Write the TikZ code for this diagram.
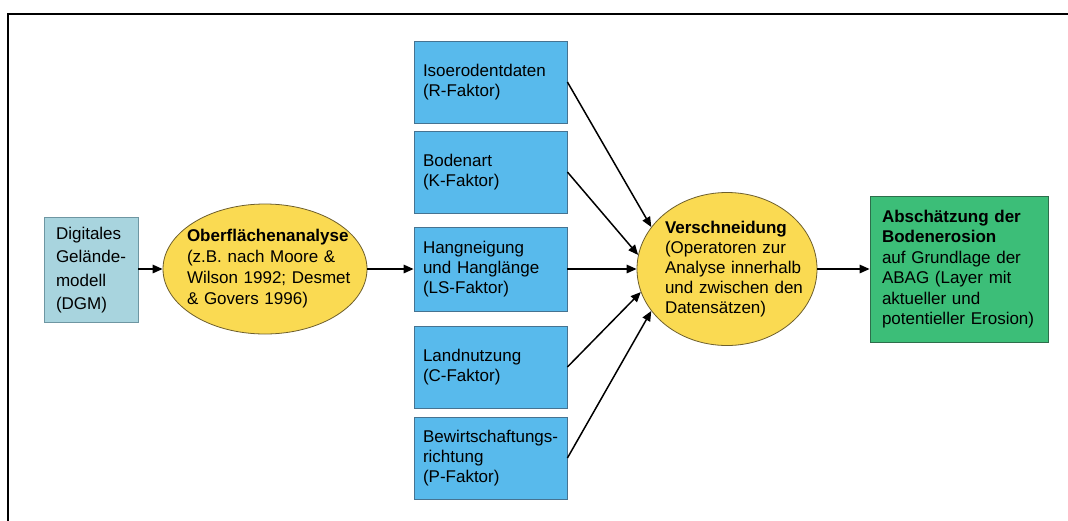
\documentclass[tikz,border=0pt]{standalone}
\usepackage{fontspec}
\setmainfont{Liberation Sans}
\usetikzlibrary{shapes.geometric,arrows.meta}
\definecolor{dgmfill}{RGB}{168,212,222}
\definecolor{dgmdraw}{RGB}{110,150,162}
\definecolor{facfill}{RGB}{88,186,236}
\definecolor{facdraw}{RGB}{70,115,145}
\definecolor{ellfill}{RGB}{250,218,82}
\definecolor{elldraw}{RGB}{110,95,45}
\definecolor{resfill}{RGB}{60,190,120}
\definecolor{resdraw}{RGB}{45,110,75}
\begin{document}
\begin{tikzpicture}[x=1pt,y=-1pt,
  base/.style={draw, line width=0.8pt, align=left, inner ysep=0pt, text=black,
    font=\fontsize{17}{20}\selectfont,
    execute at begin node={\hyphenpenalty=10000\exhyphenpenalty=10000}},
  dgmbox/.style={base, rectangle, fill=dgmfill, draw=dgmdraw, minimum width=94pt,
    minimum height=105pt, inner xsep=12pt, text width=70pt,
    font=\fontsize{17}{23.3}\selectfont},
  facbox/.style={base, rectangle, fill=facfill, draw=facdraw, minimum width=153pt,
    minimum height=82pt, inner xsep=9pt, text width=135pt},
  ellnode/.style={base, ellipse, fill=ellfill, draw=elldraw, inner xsep=-20pt},
  resbox/.style={base, rectangle, fill=resfill, draw=resdraw, minimum width=178pt,
    minimum height=146pt, inner xsep=12pt, text width=154pt,
    font=\fontsize{17}{20.4}\selectfont},
  arr/.style={draw=black, line width=1.5pt, -{Triangle[length=10pt,width=8.5pt]}}]
\useasboundingbox (0,0) rectangle (1068,520);
\fill[white] (0,0) rectangle (1068,520);
\draw[line width=2pt, line join=miter] (8,521) -- (8,14) -- (1069,14);

\node[dgmbox] (dgm) at (91,270) {Digitales\\Gelände-\\modell\\(DGM)};
\node[ellnode, minimum width=204pt, minimum height=130pt, text width=156pt,
  font=\fontsize{17}{21}\selectfont]
  (ana) at (265,269) {\mbox{\textbf{Oberflächenanalyse}}\\\mbox{(z.B. nach Moore \&}\\\mbox{Wilson 1992; Desmet}\\\mbox{\& Govers 1996)}};

\node[facbox] (iso)  at (490.5,82)  {Isoerodentdaten\\(R-Faktor)};
\node[facbox] (bod)  at (490.5,172) {Bodenart\\(K-Faktor)};
\node[facbox, minimum height=84pt] (hang) at (490.5,269) {Hangneigung\\und Hanglänge\\(LS-Faktor)};
\node[facbox] (land) at (490.5,367) {Landnutzung\\(C-Faktor)};
\node[facbox] (bew)  at (490.5,458) {Bewirtschaftungs-\\richtung\\(P-Faktor)};

\node[ellnode, minimum width=180pt, minimum height=153pt, text width=124pt]
  (ver) at (727,269) {\mbox{\textbf{Verschneidung}}\\\mbox{(Operatoren zur}\\\mbox{Analyse innerhalb}\\\mbox{und zwischen den}\\\mbox{Datensätzen)}};

\node[resbox] (res) at (959,269) {\mbox{\textbf{Abschätzung der}}\\\mbox{\textbf{Bodenerosion}}\\\mbox{auf Grundlage der}\\\mbox{ABAG (Layer mit}\\\mbox{aktueller und}\\\mbox{potentieller Erosion)}};

\draw[arr] (dgm.east |- ana.west) -- (ana.west);
\draw[arr] (ana.east) -- (hang.west);
\draw[arr] (iso.east) -- (ver.151);
\draw[arr] (bod.east) -- (ver.171);
\draw[arr] (hang.east) -- (ver.west);
\draw[arr] (land.east) -- (ver.195);
\draw[arr] (bew.east) -- (ver.209);
\draw[arr] (ver.east) -- (res.west);
\end{tikzpicture}
\end{document}
